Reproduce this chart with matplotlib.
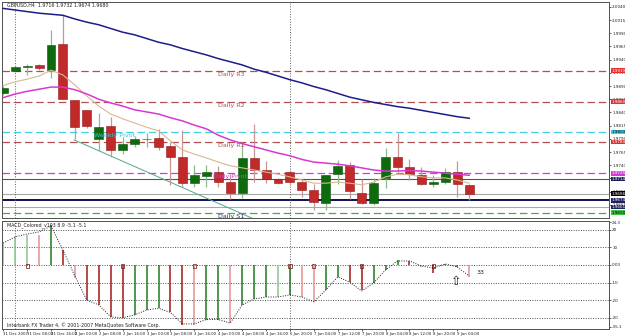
import matplotlib
matplotlib.use("Agg")
import matplotlib.pyplot as plt

# GBPUSD H4 candles (price values)
opens = [1.9877, 1.9919, 1.9927, 1.9930, 1.9920, 1.9970, 1.9864, 1.9845, 1.9790, 1.9814,
         1.9769, 1.9780, 1.9789, 1.9792, 1.9776, 1.9756, 1.9706, 1.9720, 1.9727, 1.9708,
         1.9687, 1.9754, 1.9731, 1.9714, 1.9727, 1.9708, 1.9693, 1.9668, 1.9723, 1.9741,
         1.9687, 1.9668, 1.9716, 1.9756, 1.9737, 1.9722, 1.9705, 1.9708, 1.9727, 1.9703]
highs = [1.9890, 1.9928, 1.9932, 1.9932, 1.9996, 2.0025, 1.9864, 1.9845, 1.9839, 1.9831,
         1.9794, 1.9795, 1.9801, 1.9809, 1.9784, 1.9807, 1.9741, 1.9741, 1.9739, 1.9723,
         1.9784, 1.9818, 1.9748, 1.9716, 1.9731, 1.9716, 1.9705, 1.9722, 1.9750, 1.9746,
         1.9714, 1.9716, 1.9773, 1.9801, 1.9752, 1.9737, 1.9722, 1.9735, 1.9748, 1.9705]
lows = [1.9873, 1.9917, 1.9911, 1.9920, 1.9905, 1.9865, 1.9790, 1.9811, 1.9767, 1.9756,
        1.9761, 1.9775, 1.9775, 1.9769, 1.9703, 1.9699, 1.9699, 1.9699, 1.9699, 1.9676,
        1.9678, 1.9708, 1.9706, 1.9705, 1.9703, 1.9680, 1.9655, 1.9655, 1.9705, 1.9676,
        1.9667, 1.9665, 1.9697, 1.9727, 1.9712, 1.9703, 1.9699, 1.9705, 1.9680, 1.9674]
closes = [1.9886, 1.9926, 1.9928, 1.9924, 1.9968, 1.9865, 1.9812, 1.9814, 1.9812, 1.9769,
          1.9780, 1.9790, 1.9790, 1.9775, 1.9756, 1.9706, 1.9722, 1.9727, 1.9708, 1.9687,
          1.9754, 1.9731, 1.9714, 1.9706, 1.9708, 1.9693, 1.9670, 1.9722, 1.9739, 1.9691,
          1.9668, 1.9706, 1.9756, 1.9737, 1.9723, 1.9705, 1.9708, 1.9727, 1.9705, 1.9686]

ma_slow = [2.0037, 2.0034, 2.0031, 2.0028, 2.0026, 2.0024, 2.0017, 2.0011, 2.0006, 1.9999,
           1.9992, 1.9987, 1.9980, 1.9973, 1.9968, 1.9961, 1.9955, 1.9949, 1.9942, 1.9936,
           1.9930, 1.9922, 1.9916, 1.9909, 1.9902, 1.9896, 1.9889, 1.9883, 1.9876, 1.9869,
           1.9864, 1.9859, 1.9855, 1.9851, 1.9848, 1.9844, 1.9840, 1.9836, 1.9832, 1.9829]
ma_mid = [1.9868, 1.9875, 1.9880, 1.9884, 1.9888, 1.9888, 1.9883, 1.9875, 1.9865, 1.9858,
          1.9852, 1.9845, 1.9841, 1.9837, 1.9830, 1.9824, 1.9816, 1.9809, 1.9797, 1.9788,
          1.9781, 1.9775, 1.9769, 1.9763, 1.9758, 1.9751, 1.9746, 1.9744, 1.9742, 1.9739,
          1.9735, 1.9731, 1.9729, 1.9729, 1.9730, 1.9729, 1.9727, 1.9725, 1.9723, 1.9721]
ma_fast = [1.9891, 1.9898, 1.9903, 1.9909, 1.9920, 1.9911, 1.9892, 1.9871, 1.9852, 1.9837,
           1.9828, 1.9820, 1.9812, 1.9805, 1.9786, 1.9769, 1.9761, 1.9754, 1.9746, 1.9739,
           1.9735, 1.9731, 1.9727, 1.9723, 1.9718, 1.9712, 1.9706, 1.9706, 1.9708, 1.9706,
           1.9703, 1.9708, 1.9718, 1.9723, 1.9722, 1.9718, 1.9716, 1.9716, 1.9712, 1.9706]

trend_idx = [5.94, 21.2]
trend_price = [1.9788, 1.9636]

# horizontal levels
level_names = ["Daily R3", "Daily R2", "Weekly Pivot", "Daily R1", "Daily Pivot", "", "", "", "", "Daily S1"]
level_prices = [1.9919, 1.9860, 1.9803, 1.9784, 1.9725, 1.9714, 1.9686, 1.9674, 1.9661, 1.9650]

macd_hist = [12.5, 16, 17, 17, 22.7, 8.5, -7.5, -19.9, -22.7, -29.5,
             -30, -28.4, -25.6, -24.6, -27, -34, -34, -31, -31, -33,
             -22.7, -19.3, -18.2, -18.2, -17, -18, -21, -14.2, -6.8, -9.7,
             -14.2, -10.2, -2.8, 2.8, 2, -1, -4.3, 0.6, -1, -6.7]
macd_kind = ["lr", "lg", "lg", "lr", "g", "r", "lr", "r", "r", "r",
             "r", "g", "g", "g", "r", "r", "lr", "g", "g", "lr",
             "g", "g", "g", "lg", "g", "lr", "lr", "g", "g", "r",
             "r", "g", "g", "g", "r", "lr", "r", "g", "g", "lr"]
macd_signal = [12.5, 16, 17.6, 18.8, 22.2, 8.5, -6.3, -20, -22.7, -29.5,
               -30, -28.4, -25.6, -24.6, -27, -33.5, -33.5, -31, -31, -33,
               -22.7, -19.3, -18.2, -18.2, -17, -18.2, -21, -14.2, -6.8, -9.7,
               -14.8, -10.2, -2.8, 2.3, 2.3, -0.6, -1.7, 0.6, -1.1, -6.3]
cross_idx = [2, 10, 16, 24, 26, 30, 36]

date_labels = ["31 Dec 2007", "31 Dec 08:00", "31 Dec 16:00", "2 Jan 00:00", "2 Jan 08:00",
               "2 Jan 16:00", "3 Jan 00:00", "3 Jan 08:00", "3 Jan 16:00", "4 Jan 00:00",
               "4 Jan 08:00", "4 Jan 16:00", "6 Jan 20:00", "7 Jan 04:00", "7 Jan 12:00",
               "7 Jan 20:00", "8 Jan 04:00", "8 Jan 12:00", "8 Jan 20:00", "9 Jan 04:00"]

n = len(opens)
idx = list(range(n))

fig = plt.figure(figsize=(6.25, 3.36), dpi=100)
ax = fig.add_axes([0.0032, 0.3512, 0.9712, 0.6429])
ax2 = fig.add_axes([0.0032, 0.0208, 0.9712, 0.3214])

xlim = (-0.1, 50.7)
ylo, yhi = 1.96401, 2.00492

# ---- main price panel ----
lvl_col = ["#b05050", "#b05050", "#40d0e0", "#b05050", "#d040d0",
           "#555555", "#a8a8a8", "#101050", "#a8a8a8", "#40b040"]
lvl_ls = ["--", "--", "--", "--", "--", "-", "-", "-", "-", "--"]
lvl_lw = [0.9, 0.9, 0.9, 0.9, 0.9, 0.8, 0.8, 1.4, 0.8, 0.9]
box_col = ["#e03030", "#e03030", "#40d0e0", "#e03030", "#d040d0",
           "#202060", "#000000", "#202060", "#202060", "#40c040"]
for p, c, ls, lw in zip(level_prices, lvl_col, lvl_ls, lvl_lw):
    if ls == "--":
        ax.axhline(p, color=c, ls=ls, lw=lw, dashes=(6, 3), zorder=1)
    else:
        ax.axhline(p, color=c, ls=ls, lw=lw, zorder=1)

ax.plot(trend_idx, trend_price, color="#4fa88a", lw=0.7, zorder=2)

for i in idx:
    o, h, l, c = opens[i], highs[i], lows[i], closes[i]
    up = c >= o
    wick = "#8cba8c" if up else "#c99595"
    body = "#0d6b0d" if up else "#c22a2a"
    edge = "#0a550a" if up else "#8a1a1a"
    ax.vlines(i, l, h, color=wick, lw=0.9, zorder=3)
    hgt = max(abs(c - o), 0.00008)
    ax.bar(i, hgt, bottom=min(o, c), width=0.75, color=body, edgecolor=edge, lw=0.4, zorder=4)

ax.plot(idx, ma_fast, color="#d8b890", lw=0.8, zorder=5)
ax.plot(idx, ma_mid, color="#d838d0", lw=1.1, zorder=5)
ax.plot(idx, ma_slow, color="#1c1c8c", lw=1.1, zorder=5)

lbl_pos = {"Daily R3": (18.0, "#b05050"), "Daily R2": (18.0, "#b05050"),
           "Weekly Pivot": (7.6, "#38c8d0"), "Daily R1": (18.0, "#b05050"),
           "Daily Pivot": (17.6, "#d040d0"), "Daily S1": (18.0, "#303070")}
for name, p in zip(level_names, level_prices):
    if name:
        xx, col = lbl_pos[name]
        ax.text(xx, p - 0.0002, name, color=col, fontsize=4.6, va="top", ha="left", zorder=6)

ax.text(0.3, 2.0047, "GBPUSD,H4  1.9716 1.9732 1.9674 1.9680", fontsize=3.4,
        color="#202020", va="top", ha="left")

for sep in (1, 24):
    ax.axvline(sep, color="#606060", ls=":", lw=0.7, zorder=1)
    ax2.axvline(sep, color="#606060", ls=":", lw=0.7, zorder=1)

ax.set_xlim(*xlim)
ax.set_ylim(ylo, yhi)
ax.set_xticks([])
ax.yaxis.tick_right()
ticks = [2.0040 - 0.0025 * k for k in range(16)]
ax.set_yticks(ticks)
ax.set_yticklabels(["%.4f" % t for t in ticks])
ax.tick_params(axis="y", labelsize=3.0, length=1.5, width=0.5, pad=0.8, colors="#202020")

for p, bc in zip(level_prices, box_col):
    tc = "black" if bc in ("#40d0e0", "#40c040") else "white"
    ax.text(1.004, (p - ylo) / (yhi - ylo), "%.4f" % p, transform=ax.transAxes,
            fontsize=3.0, color=tc, va="center", ha="left", clip_on=False,
            bbox=dict(boxstyle="square,pad=0.1", fc=bc, ec="none"))

# ---- MACD panel ----
kind_col = {"g": "#1f7a1f", "lg": "#8ec48e", "r": "#a31818", "lr": "#e89090"}
for v in [20, 10, 0, -10, -20, -30]:
    ax2.axhline(v, color="#505050", ls=(0, (1, 1.5)), lw=0.7, zorder=1)
for i, v, k in zip(idx, macd_hist, macd_kind):
    ax2.vlines(i, 0, v, color=kind_col[k], lw=1.1, zorder=2)
ax2.plot(idx, macd_signal, color="#202020", ls=(0, (1, 1.5)), lw=0.7, zorder=3)
ax2.scatter(cross_idx, [-0.6] * len(cross_idx), s=5, marker="s",
            facecolor="none", edgecolor="#6a1010", lw=0.5, zorder=4)

ax2.text(0.3, 24.3, "MACD_Colored_v103 8.9 -5.1 -5.1", fontsize=3.4, color="#202020",
         va="top", ha="left")
ax2.text(0.3, -34.2, "Interbank FX Trader 4, \u00a9 2001-2007 MetaQuotes Software Corp.",
         fontsize=3.4, color="#202020", va="center", ha="left")
ax2.text(39.6, -4.5, "33", fontsize=4.5, color="#202020", va="center", ha="left")
ax2.text(37.9, -9.5, "\u21e7", fontsize=9, color="#202020", va="center", ha="center")

ax2.set_xlim(*xlim)
ax2.set_ylim(-36.4, 25.0)
ax2.yaxis.tick_right()
yt = [24.3, 20, 10, 0, -10, -20, -30, -35.1]
ax2.set_yticks(yt)
ax2.set_yticklabels(["24.3", "20", "10", "0.00", "-10", "-20", "-30", "-35.1"])
ax2.tick_params(axis="y", labelsize=3.0, length=1.5, width=0.5, pad=0.8, colors="#202020")
ax2.set_xticks(idx[::2])
ax2.set_xticklabels(date_labels, ha="left")
ax2.tick_params(axis="x", labelsize=2.8, length=1.5, width=0.5, pad=0.8, colors="#202020")

for a in (ax, ax2):
    for s in a.spines.values():
        s.set_color("#505050")
        s.set_linewidth(0.7)

fig.savefig("out.png", dpi=100)
